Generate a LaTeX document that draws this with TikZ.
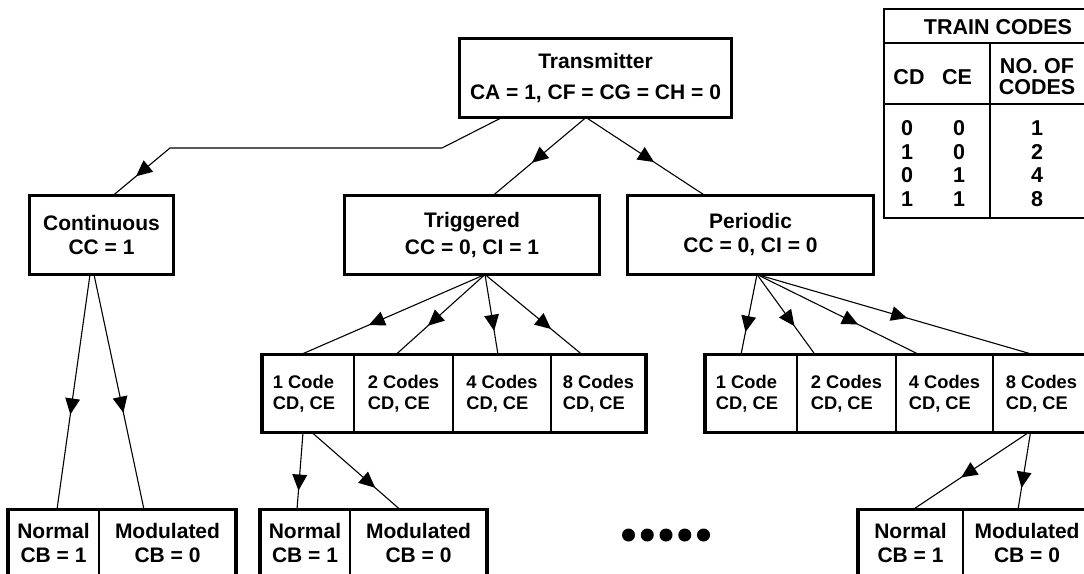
\documentclass[tikz,border=0pt]{standalone}
\usepackage{fontspec}
\setmainfont{Liberation Sans}
\usetikzlibrary{decorations.markings}
\tikzset{
  box/.style={draw, line width=3.2pt, inner sep=0pt, outer sep=0pt, align=center},
  mainfont/.style={font=\bfseries\fontsize{21}{24}\selectfont},
  cell/.style={draw, line width=2pt, inner sep=0pt, outer sep=0pt, align=left,
    minimum height=78pt, font=\bfseries\fontsize{18.3}{21}\selectfont},
  bcell/.style={draw, line width=2pt, inner sep=0pt, outer sep=0pt, align=center,
    minimum height=66pt, font=\bfseries\fontsize{21}{24}\selectfont},
  frame/.style={line width=3.2pt},
  conn/.style={line width=1.1pt},
  arr/.style={postaction={decorate}, decoration={markings,
    mark=at position -#1pt with {\fill (-16pt,-7.5pt) -- (0pt,0pt) -- (-16pt,7.5pt) -- cycle;}}},
  tab/.style={inner sep=0pt, font=\bfseries\fontsize{21.5}{21}\selectfont, align=center}
}
\begin{document}
\begin{tikzpicture}[x=1pt,y=-1pt]
\useasboundingbox (0,0) rectangle (1084,573);
\clip (0,0) rectangle (1084,573);

% top level
\node[box, font=\bfseries\fontsize{21}{31}\selectfont, minimum width=272, minimum height=79] (trans) at (595.5,78)
  {Transmitter\\CA = 1, CF = CG = CH = 0};
\node[box, mainfont, minimum width=144, minimum height=79] (cont) at (101.5,235) {Continuous\\CC = 1};
\node[box, font=\bfseries\fontsize{21}{27}\selectfont, minimum width=255, minimum height=79] (trig) at (472,235) {Triggered\\CC = 0, CI = 1};
\node[box, mainfont, minimum width=246, minimum height=79] (peri) at (750.5,235) {Periodic\\CC = 0, CI = 0};

% code cells (triggered)
\node[cell, minimum width=92] (tc1) at (308,393.5) {1 Code\\CD, CE\hspace*{8pt}};
\node[cell, minimum width=99] (tc2) at (403.5,393.5) {2 Codes\\CD, CE};
\node[cell, minimum width=98] (tc3) at (502,393.5) {4 Codes\\CD, CE};
\node[cell, minimum width=95] (tc4) at (598.5,393.5) {8 Codes\\CD, CE};
\draw[frame] (tc1.north west) rectangle (tc4.south east);

% code cells (periodic)
\node[cell, minimum width=92] (pc1) at (751,393.5) {1 Code\\CD, CE\hspace*{8pt}};
\node[cell, minimum width=99] (pc2) at (846.5,393.5) {2 Codes\\CD, CE};
\node[cell, minimum width=97] (pc3) at (944.5,393.5) {4 Codes\\CD, CE};
\node[cell, minimum width=97] (pc4) at (1041.5,393.5) {8 Codes\\CD, CE};
\draw[frame] (pc1.north west) rectangle (pc4.south east);

% bottom cells
\node[bcell, minimum width=91] (bc1) at (53.5,542.5) {Normal\\CB = 1};
\node[bcell, minimum width=137] (bc2) at (167.5,542.5) {Modulated\\CB = 0};
\draw[frame] (bc1.north west) rectangle (bc2.south east);
\node[bcell, minimum width=90] (bt1) at (305,542.5) {Normal\\CB = 1};
\node[bcell, minimum width=137] (bt2) at (418.5,542.5) {Modulated\\CB = 0};
\draw[frame] (bt1.north west) rectangle (bt2.south east);
\node[bcell, minimum width=105] (bp1) at (910.5,542.5) {Normal\\CB = 1};
\node[bcell, minimum width=128] (bp2) at (1027,542.5) {Modulated\\CB = 0};
\draw[frame] (bp1.north west) rectangle (bp2.south east);

% connectors
\draw[conn, arr=30] ([xshift=-93.5pt]trans.south) -- ++(-60,30.5) -- ++(-272,0) -- ([xshift=11.5pt]cont.north);
\draw[conn, arr=51] ([xshift=-9.5pt]trans.south) -- ([xshift=21pt]trig.north);
\draw[conn, arr=61] ([xshift=-9.5pt]trans.south) -- ([xshift=-45.5pt]peri.north);

\draw[conn, arr=96] ([xshift=-11.5pt]cont.south) -- ([xshift=3.5pt]bc1.north);
\draw[conn, arr=99] ([xshift=-7.5pt]cont.south) -- ([xshift=-23.5pt]bc2.north);

\draw[conn, arr=74] ([xshift=13pt]trig.south) -- ([xshift=-7pt]tc1.north);
\draw[conn, arr=43] ([xshift=13pt]trig.south) -- ([xshift=-7.5pt]tc2.north);
\draw[conn, arr=24] ([xshift=13pt]trig.south) -- ([xshift=-4pt]tc3.north);
\draw[conn, arr=40] ([xshift=13pt]trig.south) -- ([xshift=-16.5pt]tc4.north);

\draw[conn, arr=23] ([xshift=6.5pt]peri.south) -- ([xshift=-10pt]pc1.north);
\draw[conn, arr=35] ([xshift=6.5pt]peri.south) -- ([xshift=-31.5pt]pc2.north);
\draw[conn, arr=68] ([xshift=6.5pt]peri.south) -- ([xshift=-25.5pt]pc3.north);
\draw[conn, arr=131] ([xshift=6.5pt]peri.south) -- ([xshift=-8.5pt]pc4.north);

\draw[conn, arr=19] ([xshift=-5pt]tc1.south) -- ([xshift=-8pt]bt1.north);
\draw[conn, arr=33] ([xshift=4pt]tc1.south) -- ([xshift=-18.5pt]bt2.north);
\draw[conn, arr=58] ([xshift=-13pt]pc4.south) -- ([xshift=2.5pt]bp1.north);
\draw[conn, arr=22] ([xshift=-11pt]pc4.south) -- ([xshift=-9pt]bp2.north);

% dots
\foreach \dx in {628.5,647.25,666,684.75,703.5} \fill (\dx,535) circle (6.5);

% table
\draw[line width=2.8pt] (884,9) rectangle (1096,218);
\draw[line width=1.8pt] (884,43) -- (1096,43) (884,104) -- (1096,104) (990,43) -- (990,218);
\node[tab] (ttitle) at (998,27) {TRAIN CODES};
\node[tab] (tcd) at (909,77) {CD};
\node[tab] (tce) at (957,77) {CE};
\node[tab] (tno) at (1037,77) {NO. OF\\CODES};
\node[tab] (r1a) at (907,128) {0};
\node[tab] (r1b) at (959,128) {0};
\node[tab] (r1c) at (1037,128) {1};
\node[tab] (r2a) at (907,152) {1};
\node[tab] (r2b) at (959,152) {0};
\node[tab] (r2c) at (1037,152) {2};
\node[tab] (r3a) at (907,175.5) {0};
\node[tab] (r3b) at (959,175.5) {1};
\node[tab] (r3c) at (1037,175.5) {4};
\node[tab] (r4a) at (907,199) {1};
\node[tab] (r4b) at (959,199) {1};
\node[tab] (r4c) at (1037,199) {8};
\end{tikzpicture}
\end{document}
